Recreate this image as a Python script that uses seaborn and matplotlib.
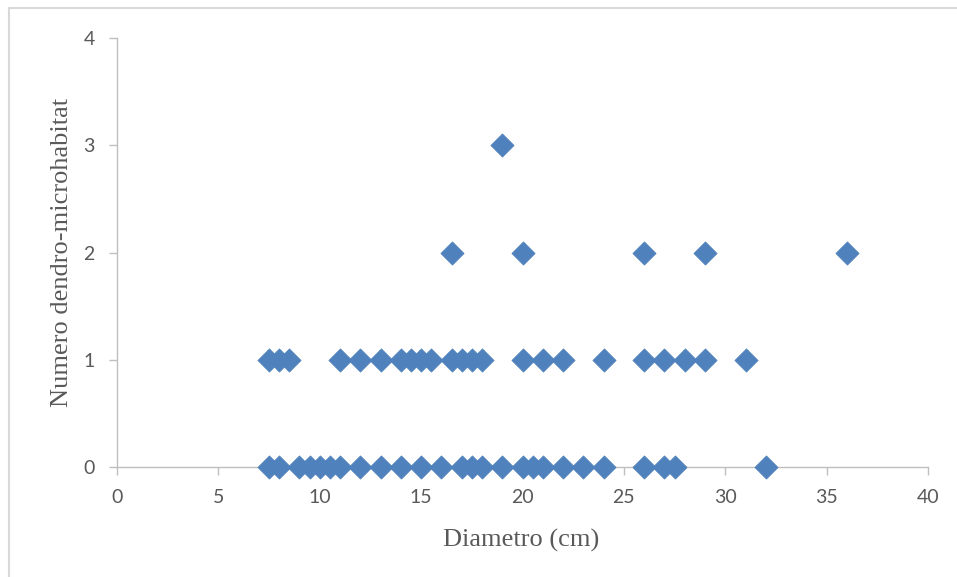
import matplotlib
matplotlib.use("Agg")
import matplotlib.pyplot as plt
from matplotlib.patches import Rectangle
import seaborn as sns
import pandas as pd

# Trunk diameter (cm) and number of dendro-microhabitats per tree
diam_0 = [7.5, 8, 9, 9.5, 10, 10.5, 11, 12, 13, 14, 15, 16, 17, 17.5, 18,
          19, 20, 20.5, 21, 22, 23, 24, 26, 27, 27.5, 32]
diam_1 = [7.5, 8, 8.5, 11, 12, 13, 14, 14.5, 15, 15.5, 16.5, 17, 17.5, 18,
          20, 21, 22, 24, 26, 27, 28, 29, 31]
diam_2 = [16.5, 20, 26, 29, 36]
diam_3 = [19]

x_ticks = [0, 5, 10, 15, 20, 25, 30, 35, 40]
y_ticks = [0, 1, 2, 3, 4]

df = pd.DataFrame({
    "diametro": diam_0 + diam_1 + diam_2 + diam_3,
    "numero": [0] * len(diam_0) + [1] * len(diam_1) + [2] * len(diam_2) + [3] * len(diam_3),
})

sns.set_theme(style="white")
blue = "#4F81BD"
grid_grey = "#BFBFBF"
text_grey = "#595959"

fig = plt.figure(figsize=(9.57, 5.77), dpi=100)
ax = fig.add_axes([117 / 957, 1 - 467 / 577, 811 / 957, 429 / 577])

sns.scatterplot(data=df, x="diametro", y="numero", marker="D", s=140,
                color=blue, edgecolor=blue, linewidth=0.5, ax=ax,
                clip_on=False, zorder=3)

ax.set_xlim(0, 40)
ax.set_ylim(0, 4)
ax.set_xticks(x_ticks)
ax.set_yticks(y_ticks)
ax.set_xticklabels([str(v) for v in x_ticks], fontfamily="Lato", fontsize=14, color=text_grey)
ax.set_yticklabels([str(v) for v in y_ticks], fontfamily="Lato", fontsize=14, color=text_grey)

for side in ("top", "right"):
    ax.spines[side].set_visible(False)
for side in ("left", "bottom"):
    ax.spines[side].set_color(grid_grey)
    ax.spines[side].set_linewidth(1.0)

ax.tick_params(axis="both", which="major", direction="out", length=6,
               width=1.0, color=grid_grey, bottom=True, left=True)
ax.tick_params(axis="y", pad=10)
ax.tick_params(axis="x", pad=10)

ax.set_xlabel("Diametro (cm)", fontfamily="Liberation Serif", fontsize=19, color=text_grey)
ax.set_ylabel("Numero dendro-microhabitat", fontfamily="Liberation Serif", fontsize=19, color=text_grey)
ax.xaxis.set_label_coords(0.498, -0.145)
ax.yaxis.set_label_coords(-0.054, 0.5)

# thin outline around the chart area
fig.patches.append(Rectangle((9 / 957, -0.02), 1.0, (569 / 577) + 0.02,
                             transform=fig.transFigure, fill=False,
                             edgecolor="#D9D9D9", linewidth=1.5))

fig.savefig("out.png", dpi=100)
